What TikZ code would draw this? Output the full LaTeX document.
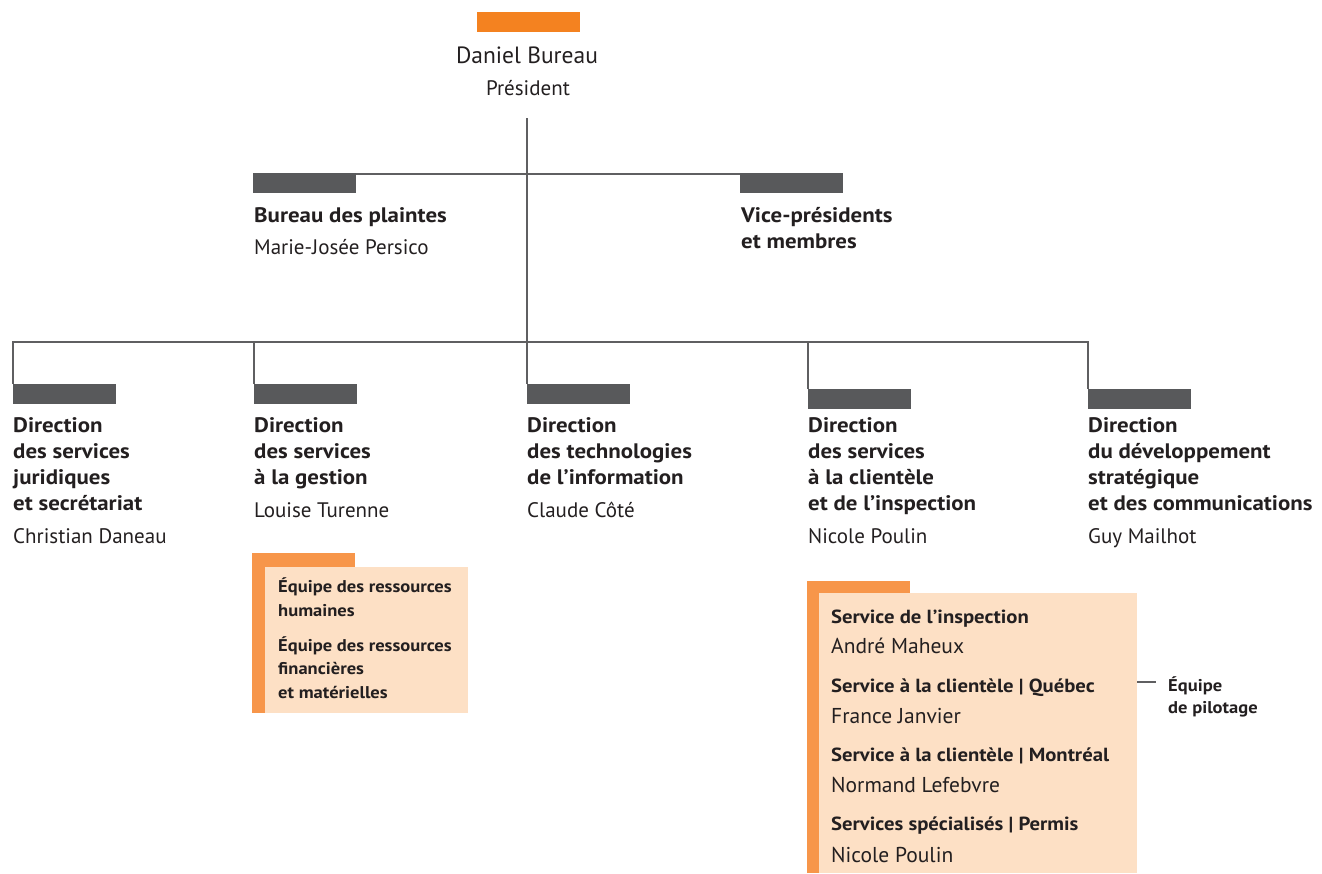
\documentclass[tikz,border=0pt]{standalone}
\usepackage{fontspec}
\setmainfont{PT Sans}[BoldFeatures={FakeStretch=1.09}]
\usetikzlibrary{positioning}

\definecolor{orangetop}{RGB}{244,130,32}
\definecolor{orangestrip}{RGB}{247,150,74}
\definecolor{peach}{RGB}{253,224,197}
\definecolor{bargray}{RGB}{88,89,91}
\definecolor{linegray}{RGB}{95,95,97}
\definecolor{ink}{RGB}{35,31,32}

\tikzset{
  link/.style={draw=linegray, line width=2.5pt},
  bar/.style={rectangle, fill=bargray, minimum width=103pt, minimum height=20pt, inner sep=0pt, anchor=north west},
  panel/.style={rectangle, inner sep=0pt, anchor=north west},
  head/.style={font=\bfseries\fontsize{21}{26}\selectfont, text=ink, align=left, anchor=base west, inner sep=0pt},
  who/.style={font=\fontsize{21}{26}\selectfont, text=ink, anchor=base west, inner sep=0pt},
  team/.style={font=\bfseries\fontsize{17}{23.5}\selectfont, text=ink, align=left, anchor=base west, inner sep=0pt},
  unit/.style={font=\bfseries\fontsize{19}{24}\selectfont, text=ink, anchor=base west, inner sep=0pt},
}

\begin{document}
\begin{tikzpicture}[x=1pt, y=-1pt]
\useasboundingbox (0,0) rectangle (1322,873);

% president
\node[bar, fill=orangetop] (pbar) at (477,12) {};
\node[font=\fontsize{23.5}{26}\selectfont, text=ink, anchor=base, inner sep=0pt] (pname) at (527,63) {Daniel Bureau};
\node[font=\fontsize{21}{24}\selectfont, text=ink, anchor=base, inner sep=0pt] (ptitle) at (528,95) {Président};
\coordinate (ptop) at (527,118);

% second level (multi-line nodes sit on their last baseline)
\node[bar] (bpl) at (253,173) {};
\node[bar] (bvp) at (740,173) {};
\node[head] (plaintes) at (254,222) {Bureau des plaintes};
\node[who] (persico) at (254,254) {Marie-Josée Persico};
\node[head] (vp) at (741,248) {Vice-présidents\\et membres};

% directions
\node[bar] (b1) at (13,384) {};
\node[bar] (b2) at (254,384) {};
\node[bar] (b3) at (527,384) {};
\node[bar] (b4) at (808,389) {};
\node[bar] (b5) at (1088,389) {};

\node[head] (d1) at (13,510) {Direction\\des services\\juridiques\\et secrétariat};
\node[who] (n1) at (13,543) {Christian Daneau};
\node[head] (d2) at (254,484) {Direction\\des services\\à la gestion};
\node[who] (n2) at (254,517) {Louise Turenne};
\node[head] (d3) at (527,484) {Direction\\des technologies\\de l’information};
\node[who] (n3) at (527,517) {Claude Côté};
\node[head] (d4) at (808,510) {Direction\\des services\\à la clientèle\\et de l’inspection};
\node[who] (n4) at (808,543) {Nicole Poulin};
\node[head] (d5) at (1088,510) {Direction\\du développement\\stratégique\\et des communications};
\node[who] (n5) at (1088,543) {Guy Mailhot};

% connectors
\coordinate (hub) at (527,342);
\draw[link] (ptop) -- (b3.north west);
\draw[link] ([yshift=-1pt]bpl.north east) -- ([yshift=-1pt]bvp.north west);
\draw[link] (b1.north west) |- (hub) -| (b5.north west);
\foreach \b in {b2,b4}
  \draw[link] (\b.north west) -- (\b.north west |- hub);

% gestion teams
\node[panel, fill=orangestrip, minimum width=103pt, minimum height=160pt] (gstrip) at (252,553) {};
\node[panel, fill=peach, minimum width=203pt, minimum height=146pt] (gbox) at (265,567) {};
\node[team] (rh) at (278,616) {Équipe des ressources\\humaines};
\node[team] (rf) at (278,698) {Équipe des ressources\\financières\\et matérielles};

% clientele services
\node[panel, fill=orangestrip, minimum width=103pt, minimum height=292pt] (sstrip) at (807,581) {};
\node[panel, fill=peach, minimum width=318pt, minimum height=280pt] (sbox) at (819,593) {};
\node[unit] (s1) at (831,623) {Service de l’inspection};
\node[who, font=\fontsize{21.5}{26}\selectfont] (m1) at (831,653) {André Maheux};
\node[unit] (s2) at (831,692) {Service à la clientèle | Québec};
\node[who, font=\fontsize{21.5}{26}\selectfont] (m2) at (831,723) {France Janvier};
\node[unit] (s3) at (831,761) {Service à la clientèle | Montréal};
\node[who, font=\fontsize{21.5}{26}\selectfont] (m3) at (831,792) {Normand Lefebvre};
\node[unit] (s4) at (831,830) {Services spécialisés | Permis};
\node[who, font=\fontsize{21.5}{26}\selectfont] (m4) at (831,862) {Nicole Poulin};

% steering team
\node[font=\bfseries\fontsize{17}{22}\selectfont, text=ink, align=left, anchor=base west, inner sep=0pt] (pilot) at (1168,713) {Équipe\\de pilotage};
\coordinate (pq) at (1156,682);
\draw[link] (sbox.east |- pq) -- (pq);
\end{tikzpicture}
\end{document}
